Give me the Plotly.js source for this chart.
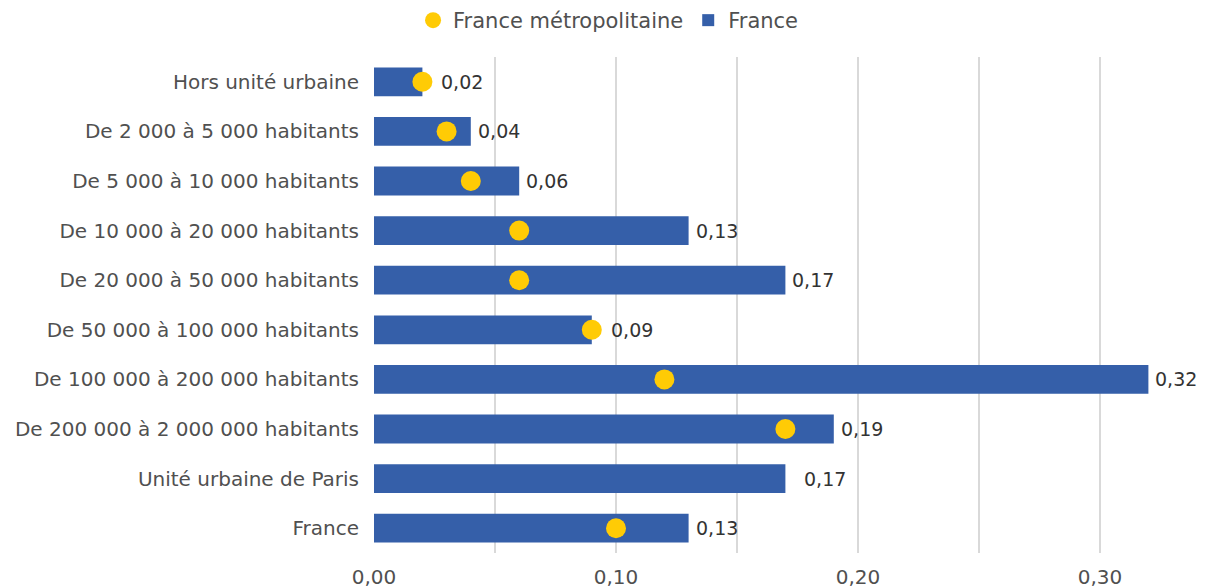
<!DOCTYPE html>
<html><head><meta charset="utf-8">
<script src="https://cdn.plot.ly/plotly-3.0.1.min.js"></script>
<style>html,body{margin:0;padding:0;background:#fff;}#chart{width:1221px;height:586px;}</style>
</head><body><div id="chart"></div>
<script>
const categories = [
  "Hors unité urbaine",
  "De 2 000 à 5 000 habitants",
  "De 5 000 à 10 000 habitants",
  "De 10 000 à 20 000 habitants",
  "De 20 000 à 50 000 habitants",
  "De 50 000 à 100 000 habitants",
  "De 100 000 à 200 000 habitants",
  "De 200 000 à 2 000 000 habitants",
  "Unité urbaine de Paris",
  "France"
];
const franceValues = [0.02, 0.04, 0.06, 0.13, 0.17, 0.09, 0.32, 0.19, 0.17, 0.13];
const metroValues = [0.02, 0.03, 0.04, 0.06, 0.06, 0.09, 0.12, 0.17, null, 0.10];
const valueLabels = ["0,02", "0,04", "0,06", "0,13", "0,17", "0,09", "0,32", "0,19", "0,17", "0,13"];
const xTickVals = [0, 0.1, 0.2, 0.3];
const xTickText = ["0,00", "0,10", "0,20", "0,30"];

const FONT = "DejaVu Sans, sans-serif";
const barColor = "#355FA9";
const dotColor = "#FFCB05";

const traces = [
  {
    type: "bar", orientation: "h", name: "France",
    y: categories, x: franceValues,
    marker: {color: barColor}, width: 0.58,
    hoverinfo: "skip", legendrank: 2
  },
  {
    type: "scatter", mode: "markers", name: "France métropolitaine",
    y: categories, x: metroValues,
    marker: {color: dotColor, size: 20, symbol: "circle"},
    hoverinfo: "skip", legendrank: 1
  }
];

const annotations = categories.map((c, i) => {
  const m = metroValues[i];
  const near = m === null || Math.abs(m - franceValues[i]) < 0.005;
  return {
    x: franceValues[i], y: c, xref: "x", yref: "y",
    text: valueLabels[i], showarrow: false,
    xanchor: "left", yanchor: "middle",
    xshift: near ? 17 : 5,
    font: {family: FONT, size: 19, color: "#333333"}
  };
});

const layout = {
  width: 1221, height: 586,
  margin: {l: 374, r: 0, t: 57, b: 33, autoexpand: false},
  paper_bgcolor: "#ffffff", plot_bgcolor: "#ffffff",
  font: {family: FONT, size: 20, color: "#505050"},
  bargap: 0.42,
  showlegend: true,
  legend: {
    orientation: "h", xref: "container", yref: "container",
    x: 0.498, xanchor: "center", y: 1.0, yanchor: "top",
    font: {family: FONT, size: 21, color: "#505050"},
    traceorder: "normal"
  },
  xaxis: {
    range: [0, 0.35], automargin: false,
    tickvals: xTickVals, ticktext: xTickText,
    showgrid: true, gridcolor: "#D9D9D9", gridwidth: 2,
    minor: {dtick: 0.05, tick0: 0, showgrid: true, gridcolor: "#D9D9D9", gridwidth: 2},
    zeroline: false, showline: false,
    ticks: "", ticklabelstandoff: 10,
    tickfont: {family: FONT, size: 20, color: "#505050"},
    fixedrange: true
  },
  yaxis: {
    type: "category", categoryorder: "array", categoryarray: categories,
    range: [categories.length - 0.5, -0.5], autorange: false, automargin: false,
    showgrid: false, zeroline: false, showline: false,
    ticks: "", ticklabelstandoff: 14,
    tickfont: {family: FONT, size: 20, color: "#505050"},
    fixedrange: true
  },
  annotations: annotations
};

Plotly.newPlot("chart", traces, layout, {displayModeBar: false, staticPlot: true});
</script>
</body></html>
